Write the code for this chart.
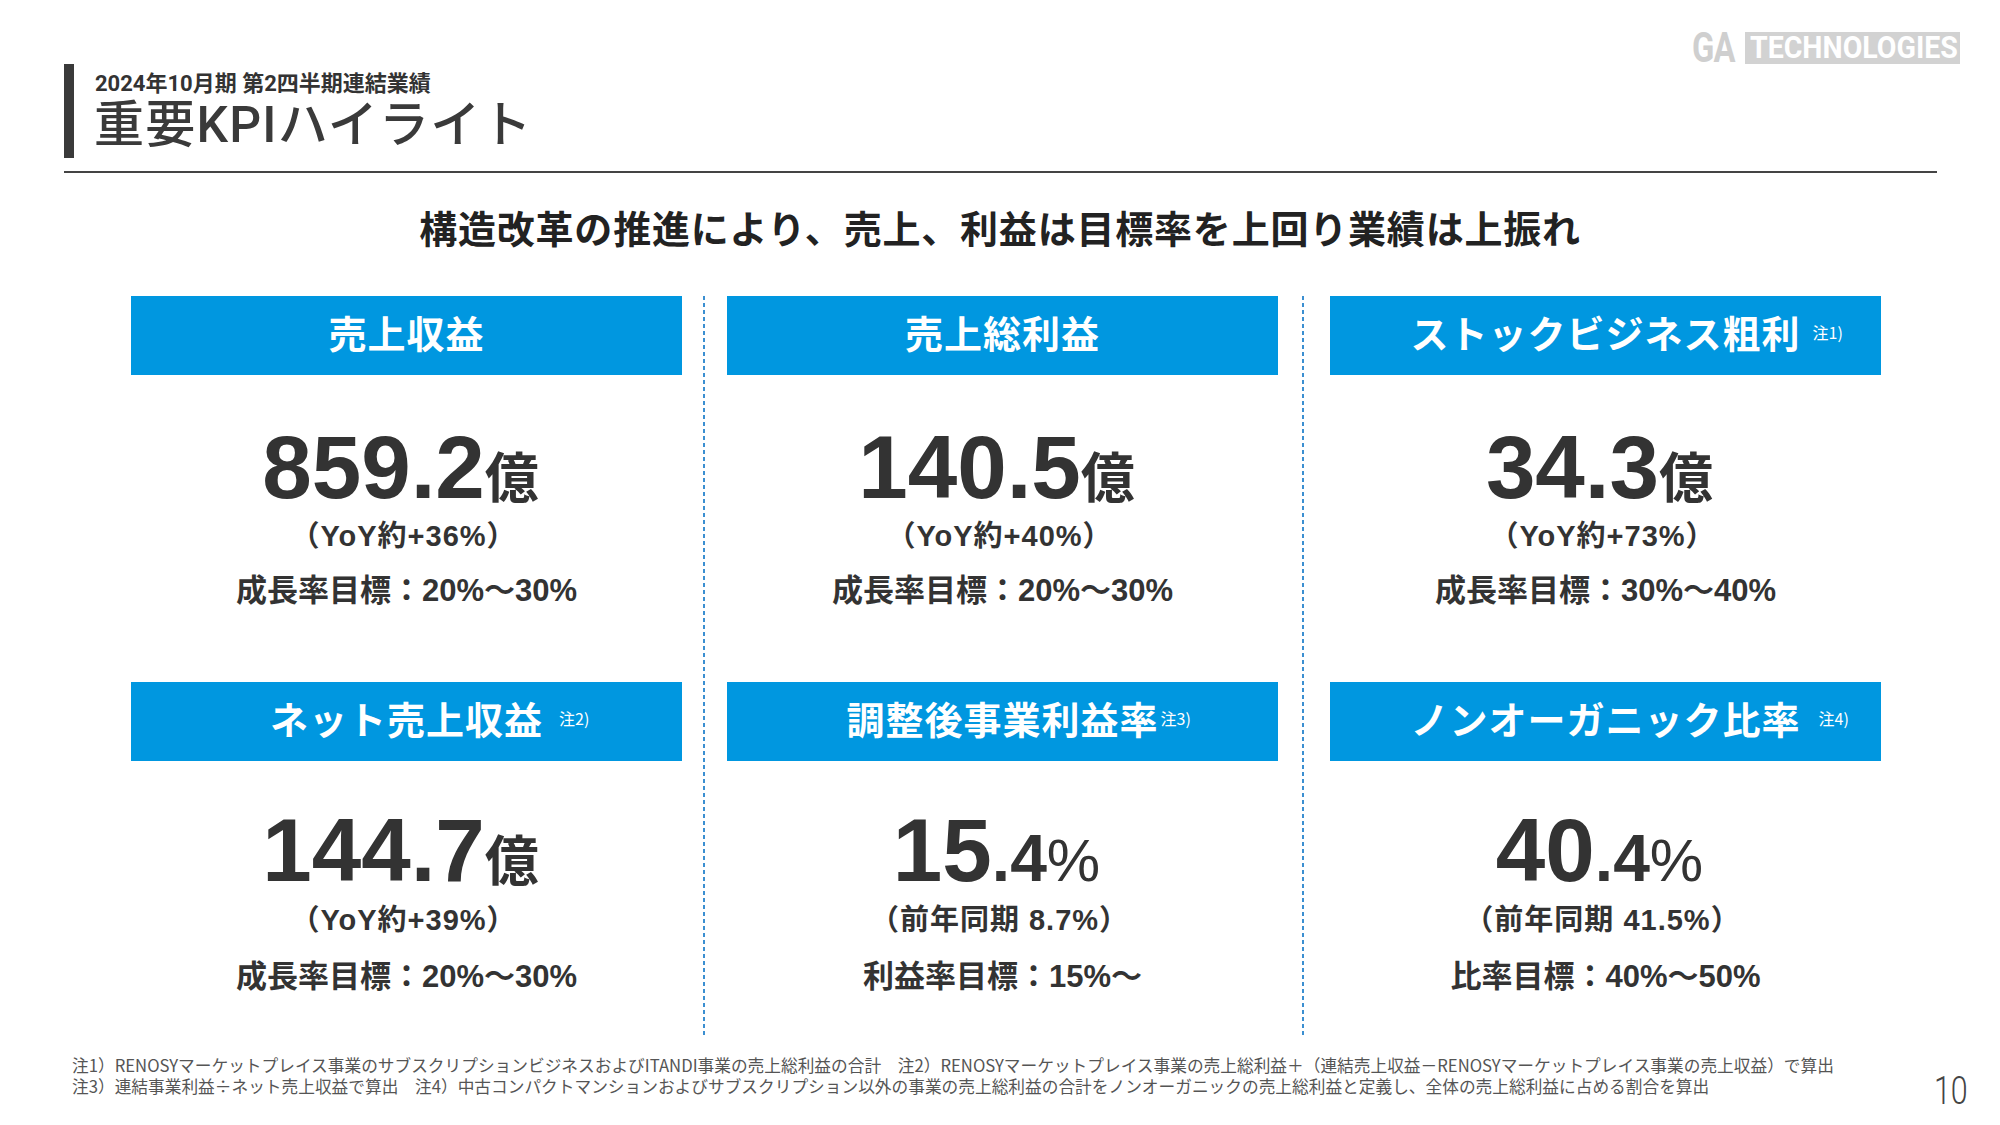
<!DOCTYPE html>
<html lang="ja">
<head>
<meta charset="utf-8">
<script src="https://cdn.jsdelivr.net/npm/chart.js@4.4.1/dist/chart.umd.min.js"></script>
<style>
  html,body{margin:0;padding:0;background:#fff;}
  body{width:2000px;height:1125px;position:relative;overflow:hidden;
       font-family:"Liberation Sans","Noto Sans CJK JP",sans-serif;color:#333;}
  .abs{position:absolute;}
  .center{text-align:center;white-space:nowrap;}
</style>
</head>
<body>
<div id="slide"></div>
<script>
// ---- data ----
const periodLabel = "2024年10月期 第2四半期連結業績";
const pageTitle = "重要KPIハイライト";
const headline = "構造改革の推進により、売上、利益は目標率を上回り業績は上振れ";
const kpiTitles = ["売上収益","売上総利益","ストックビジネス粗利","ネット売上収益","調整後事業利益率","ノンオーガニック比率"];
const kpiNotes = ["","","注1)","注2)","注3)","注4)"];
const kpiMain = ["859.2","140.5","34.3","144.7","15","40"];
const kpiDecimal = ["","","","",".4",".4"];
const kpiUnit = ["億","億","億","億","%","%"];
const kpiCompare = ["（YoY約+36%）","（YoY約+40%）","（YoY約+73%）","（YoY約+39%）","（前年同期 8.7%）","（前年同期 41.5%）"];
const kpiTarget = ["成長率目標：20%～30%","成長率目標：20%～30%","成長率目標：30%～40%","成長率目標：20%～30%","利益率目標：15%～","比率目標：40%～50%"];
const footnotes = [
  "注1）RENOSYマーケットプレイス事業のサブスクリプションビジネスおよびITANDI事業の売上総利益の合計　注2）RENOSYマーケットプレイス事業の売上総利益＋（連結売上収益－RENOSYマーケットプレイス事業の売上収益）で算出",
  "注3）連結事業利益÷ネット売上収益で算出　注4）中古コンパクトマンションおよびサブスクリプション以外の事業の売上総利益の合計をノンオーガニックの売上総利益と定義し、全体の売上総利益に占める割合を算出"
];
const pageNumber = "10";

// ---- layout ----
const S = document.getElementById('slide');
function el(tag, css, html, cls){
  const d = document.createElement(tag);
  d.className = 'abs ' + (cls||'');
  Object.assign(d.style, css);
  if(html!==undefined) d.innerHTML = html;
  S.appendChild(d);
  return d;
}
const BLUE = '#0097e0';

// header
el('div',{left:'64px',top:'64px',width:'10px',height:'94px',background:'#3a3a3a'});
el('div',{left:'95px',top:'70px',fontSize:'22px',lineHeight:'28px',fontWeight:'700',color:'#333',fontFamily:'Roboto,"Noto Sans CJK JP"',whiteSpace:'nowrap'},periodLabel);
el('div',{left:'94px',top:'95px',fontSize:'50px',lineHeight:'60px',fontWeight:'500',color:'#3a3a3a',letterSpacing:'1.2px',fontFamily:'Roboto,"Noto Sans CJK JP"',whiteSpace:'nowrap'},pageTitle);
el('div',{left:'64px',top:'171px',width:'1873px',height:'2px',background:'#444'});

// logo
el('div',{left:'1692px',top:'26px',fontSize:'42px',lineHeight:'44px',fontWeight:'700',color:'#cfcfcf',fontFamily:'Roboto',transform:'scaleX(0.78)',transformOrigin:'left center',letterSpacing:'-1px'},'GA');
el('div',{left:'1745px',top:'32px',width:'215px',height:'32px',background:'#d2d2d2'});
el('div',{left:'1750px',top:'31px',fontSize:'31px',lineHeight:'34px',fontWeight:'700',color:'#fff',fontFamily:'Roboto',transform:'scaleX(0.92)',transformOrigin:'left center',whiteSpace:'nowrap'},'TECHNOLOGIES');

// headline
el('div',{left:'0px',width:'2000px',top:'204px',fontSize:'38px',lineHeight:'46px',fontWeight:'700',color:'#222',letterSpacing:'0.8px',fontFamily:'"Noto Sans CJK JP"'},headline,'center');

// dividers
[703,1302].forEach(x=>{
  el('div',{left:x+'px',top:'296px',width:'2px',height:'740px',
    background:'repeating-linear-gradient(to bottom,#3b8fd1 0px,#3b8fd1 4px,transparent 4px,transparent 7px)'});
});

// KPI cards
const cols=[131,727,1330], colW=551;
const rows=[{box:296,base:497,cmp:536,tgt:591},{box:682,base:880,cmp:920,tgt:977}];
const noteGap=[0,0,12,16,2,18];
kpiTitles.forEach((t,i)=>{
  const c=cols[i%3], r=rows[Math.floor(i/3)];
  el('div',{left:c+'px',top:r.box+'px',width:colW+'px',height:'79px',background:BLUE});
  el('div',{left:c+'px',top:(r.box+12)+'px',width:colW+'px',fontSize:'38px',lineHeight:'48px',fontWeight:'700',color:'#fff',letterSpacing:'1px',fontFamily:'"Noto Sans CJK JP"'},
     '<span style="position:relative">'+t+(kpiNotes[i]?'<span style="position:absolute;left:100%;top:4px;font-size:16px;font-weight:400;letter-spacing:0;margin-left:'+noteGap[i]+'px">'+kpiNotes[i]+'</span>':'')+'</span>','center');
  // big value
  const isPct = kpiUnit[i]==='%';
  let h = '<span style="font-size:89px;font-weight:700">'+kpiMain[i]+'</span>';
  if(kpiDecimal[i]) h += '<span style="font-size:66px;font-weight:700">'+kpiDecimal[i]+'</span>';
  h += isPct ? '<span style="font-size:60px;font-weight:400">'+kpiUnit[i]+'</span>'
             : '<span style="font-size:54px;font-weight:700;font-family:\'Noto Sans CJK JP\'">'+kpiUnit[i]+'</span>';
  el('div',{left:(c-6)+'px',top:(r.base-80)+'px',width:colW+'px',lineHeight:'100px',color:'#333'},h,'center');
  el('div',{left:(c-3)+'px',top:(r.cmp-18)+'px',width:colW+'px',fontSize:'29px',lineHeight:'36px',fontWeight:'700',letterSpacing:'1px',color:'#333'},kpiCompare[i],'center');
  el('div',{left:c+'px',top:(r.tgt-19)+'px',width:colW+'px',fontSize:'31px',lineHeight:'38px',fontWeight:'700',color:'#333'},kpiTarget[i],'center');
});

// footnotes
footnotes.forEach((f,k)=>{
  el('div',{left:'72px',top:(1055+k*21)+'px',fontSize:'16.7px',lineHeight:'20px',color:'#555',whiteSpace:'nowrap',fontFamily:'"Noto Sans CJK JP"'},f);
});
el('div',{left:'1934px',top:'1070px',fontSize:'38px',lineHeight:'42px',fontWeight:'300',color:'#444',fontFamily:'Roboto',transform:'scaleX(0.8)',transformOrigin:'left center'},pageNumber);
</script>
</body>
</html>
